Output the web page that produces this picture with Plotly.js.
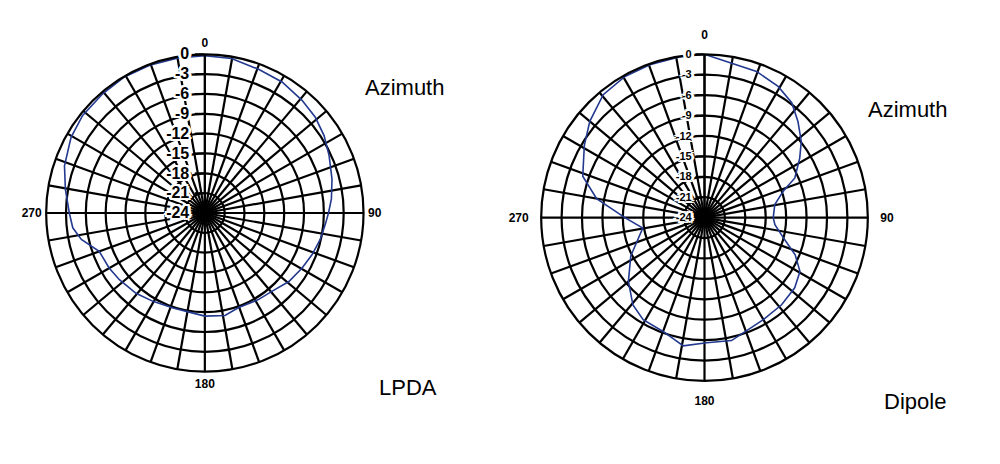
<!DOCTYPE html>
<html>
<head>
<meta charset="utf-8">
<script src="https://cdn.plot.ly/plotly-3.0.1.min.js"></script>
<style>html,body{margin:0;padding:0;background:#fff;}#chart{width:1000px;height:464px;}</style>
</head>
<body>
<div id="chart"></div>
<script>
// ---- data ----
const lpdaTheta = [0, 9.8, 20.5, 30.5, 40.8, 49.1, 57, 65.2, 75.1, 83.8, 90, 95.4, 102.9, 111.2, 119.5, 129.2, 139.5, 148.3, 160.6, 168.9, 180, 186.7, 198.5, 210.4, 220.6, 232, 240.1, 250.1, 257.9, 263.6, 270, 279.7, 288.6, 299.5, 308.6, 319.4, 329.4, 339.5, 350.2, 360];
const lpdaGain  = [-0.2, -0.3, -0.8, -1.0, -1.5, -1.9, -2.5, -3.3, -4.1, -4.75, -5.3, -5.7, -6.1, -6.6, -7.1, -7.6, -8.4, -8.6, -8.8, -8.2, -8.4, -8.75, -8.85, -8.5, -8.0, -7.6, -7.3, -7.0, -4.9, -3.9, -3.5, -2.6, -1.6, -0.75, -0.35, -0.25, -0.1, -0.15, -0.2, -0.2];

const dipoleTheta = [0, 19.6, 29.3, 37.2, 44.2, 51.8, 58, 66.3, 71.5, 79.5, 90, 95.7, 104.5, 112.3, 119.4, 127.9, 138.5, 150, 167.6, 179, 189.4, 200, 211, 219.3, 230, 242.6, 260.4, 270, 280, 288.8, 301, 310, 320.5, 330.6, 340.3, 351, 360];
const dipoleGain  = [0, -1.2, -1.9, -2.8, -4.3, -5.9, -7.5, -9.5, -11.8, -13.5, -13.9, -13.6, -12.0, -9.6, -7.9, -7.2, -6.9, -6.7, -5.5, -5.6, -4.9, -6.2, -6.5, -7.4, -9.4, -11.8, -14.8, -12.3, -7.9, -5.1, -3.4, -2.0, -0.6, -0.2, -0.15, -0.1, 0];

const radialTicks = [0, -3, -6, -9, -12, -15, -18, -21, -24];
const spokeAngles = [0,10,20,30,40,50,60,70,80,90,100,110,120,130,140,150,160,170,180,190,200,210,220,230,240,250,260,270,280,290,300,310,320,330,340,350];
const labeledAngles = ['0', '90', '180', '270'];

const titleTop = 'Azimuth';
const leftName = 'LPDA';
const rightName = 'Dipole';

// ---- build ----
const spokeText = spokeAngles.map(a => labeledAngles.includes(String(a)) ? String(a) : '');
const lineColor = '#22398f';
const halo = '2px 0 0 #fff, -2px 0 0 #fff, 0 2px 0 #fff, 0 -2px 0 #fff, 2px 2px 0 #fff, -2px -2px 0 #fff, 2px -2px 0 #fff, -2px 2px 0 #fff, 3px 0 0 #fff, -3px 0 0 #fff';

function polarLayout(domainX, domainY, radFont, radTick, angPad) {
  return {
    domain: {x: domainX, y: domainY},
    bgcolor: 'rgba(0,0,0,0)',
    radialaxis: {
      range: [-24, 0],
      tickvals: radialTicks,
      ticktext: radialTicks.map(String),
      angle: 90,
      side: 'counterclockwise',
      showline: true, linecolor: 'black', linewidth: 2,
      showgrid: true, gridcolor: 'black', gridwidth: 2.2,
      ticks: 'outside', ticklen: radTick, tickwidth: 2, tickcolor: 'black',
      tickangle: 90,
      tickfont: radFont
    },
    angularaxis: {
      rotation: 90, direction: 'clockwise',
      tickmode: 'array', tickvals: spokeAngles, ticktext: spokeText,
      showgrid: true, gridcolor: 'black', gridwidth: 2.2,
      showline: true, linecolor: 'black', linewidth: 2.2,
      ticks: 'outside', ticklen: angPad, tickcolor: 'rgba(0,0,0,0)',
      tickfont: {family: 'Liberation Sans, Arial, sans-serif', size: 12, color: 'black', weight: 'bold'}
    }
  };
}

const data = [
  {type: 'scatterpolar', mode: 'lines', r: lpdaGain, theta: lpdaTheta, subplot: 'polar',
   line: {color: lineColor, width: 1.6}, hoverinfo: 'skip'},
  {type: 'scatterpolar', mode: 'lines', r: dipoleGain, theta: dipoleTheta, subplot: 'polar2',
   line: {color: lineColor, width: 1.6}, hoverinfo: 'skip'}
];

const annFont = {family: 'Liberation Sans, Arial, sans-serif', size: 22, color: 'black'};
const layout = {
  width: 1000, height: 464,
  margin: {l: 0, r: 0, t: 0, b: 0},
  paper_bgcolor: 'white',
  showlegend: false,
  polar: polarLayout([0.0457, 0.364], [0.199, 0.883],
    {family: 'Liberation Sans, Arial, sans-serif', size: 16, color: 'black', weight: 'bold', shadow: halo}, 9, 1),
  polar2: polarLayout([0.541, 0.868], [0.179, 0.883],
    {family: 'Liberation Sans, Arial, sans-serif', size: 11, color: 'black', weight: 'bold', shadow: halo}, 8, 9),
  annotations: [
    {text: titleTop, x: 404, y: 87, font: annFont},
    {text: leftName, x: 408, y: 387, font: annFont},
    {text: titleTop, x: 907, y: 110, font: annFont},
    {text: rightName, x: 915, y: 401, font: annFont}
  ].map(a => Object.assign({xref: 'paper', yref: 'paper', showarrow: false, xanchor: 'center', yanchor: 'middle'},
        a, {x: a.x / 1000, y: 1 - a.y / 464}))
};

Plotly.newPlot('chart', data, layout, {staticPlot: true, displayModeBar: false});
</script>
</body>
</html>
